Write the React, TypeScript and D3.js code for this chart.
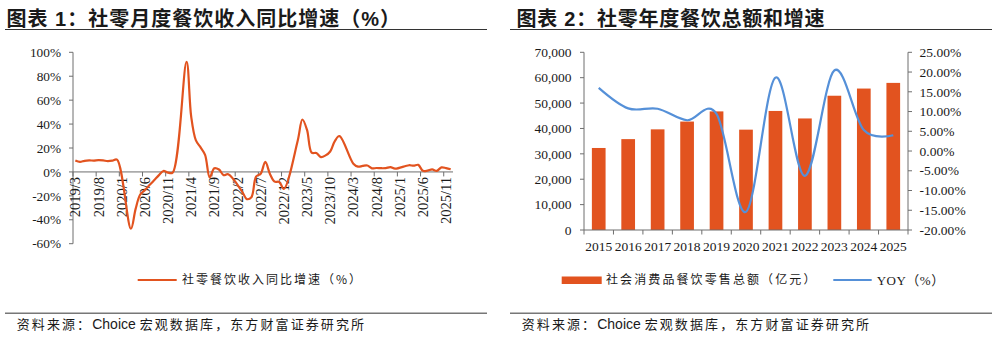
import React from 'react';
import * as d3 from 'd3';

// ---------- Data ----------
const monthLabels: string[] = [
  '2019/3','2019/4','2019/5','2019/6','2019/7','2019/8','2019/9','2019/10','2019/11','2019/12',
  '2020/1','2020/2','2020/3','2020/4','2020/5','2020/6','2020/7','2020/8','2020/9','2020/10','2020/11','2020/12',
  '2021/1','2021/2','2021/3','2021/4','2021/5','2021/6','2021/7','2021/8','2021/9','2021/10','2021/11','2021/12',
  '2022/1','2022/2','2022/3','2022/4','2022/5','2022/6','2022/7','2022/8','2022/9','2022/10','2022/11','2022/12',
  '2023/1','2023/2','2023/3','2023/4','2023/5','2023/6','2023/7','2023/8','2023/9','2023/10','2023/11','2023/12',
  '2024/1','2024/2','2024/3','2024/4','2024/5','2024/6','2024/7','2024/8','2024/9','2024/10','2024/11','2024/12',
  '2025/1','2025/2','2025/3','2025/4','2025/5','2025/6','2025/7','2025/8','2025/9','2025/10','2025/11','2025/12',
];

const monthYoY: (number | null)[] = [
  9.6, 8.4, 9.3, 9.6, 9.5, 9.8, 9.6, 9.0, 9.4, 10.3,
  null, null, -47.5, -31.1, -18.9, -15.2, -11.0, -7.0, -2.9, 0.8, -0.6, -0.6,
  null, null, 92.0, 46.4, 26.6, 20.7, 14.3, -4.5, 3.1, 2.0, -2.7, -2.0,
  null, null, -16.4, -22.7, -21.1, -4.0, -1.5, 8.4, -1.7, -8.1, -8.4, -14.1,
  null, null, 26.3, 43.8, 35.1, 16.1, 15.8, 12.4, 13.8, 17.1, 25.8, 30.0,
  null, null, 6.9, 4.4, 5.0, 5.4, 3.0, 3.3, 3.1, 3.2, 4.0, 2.7,
  null, null, 5.6, 5.2, 5.9, 0.9, 1.1, 2.1, 0.9, 3.8, 3.2, 2.2,
];

const leftTicks: number[] = [-60, -40, -20, 0, 20, 40, 60, 80, 100];

const yearLabels: string[] = ['2015','2016','2017','2018','2019','2020','2021','2022','2023','2024','2025'];
const cateringRevenue: number[] = [32310, 35799, 39644, 42716, 46721, 39527, 46895, 43941, 52890, 55718, 57950];
const cateringYoY: number[] = [16.0, 10.8, 10.7, 7.8, 9.4, -15.4, 18.6, -6.3, 20.4, 5.3, 4.0];
const revenueTicks: number[] = [0, 10000, 20000, 30000, 40000, 50000, 60000, 70000];
const yoyTicks: number[] = [-20, -15, -10, -5, 0, 5, 10, 15, 20, 25];

// ---------- Style ----------
const ORANGE = '#E2531F';
const BLUE = '#5590D8';
const AXIS = '#6e6e6e';
const TEXT = '#1a1a1a';
const SERIF = '"Liberation Serif", "Times New Roman", serif';
const CJK = '"Noto Sans CJK SC", sans-serif';
const TITLE_FONT = '"Liberation Sans", "Noto Sans CJK SC", sans-serif';

function LeftChart() {
  const x = d3.scaleBand<string>().domain(monthLabels).range([73, 453]).padding(0);
  const y = d3.scaleLinear().domain([-60, 100]).range([243.7, 52.3]);
  const bw = x.bandwidth();
  const y0 = y(0);
  const pts: [number, number][] = [];
  monthLabels.forEach((m, i) => {
    const v = monthYoY[i];
    if (v !== null) pts.push([(x(m) as number) + bw / 2, y(v)]);
  });
  const line = d3.line().curve(d3.curveCatmullRom.alpha(0.5));
  const labelIdx = monthLabels.map((_, i) => i).filter(i => i % 5 === 0);
  return (
    <g>
      <line x1={73} x2={73} y1={y(100)} y2={y(-60)} stroke={AXIS} strokeWidth={1} />
      {leftTicks.map(t => (
        <g key={t}>
          <line x1={69} x2={73} y1={y(t)} y2={y(t)} stroke={AXIS} strokeWidth={1} />
          <text x={61} y={y(t)} dy="0.35em" textAnchor="end" fontFamily={SERIF} fontSize={13.3} fill={TEXT}>{t}%</text>
        </g>
      ))}
      <line x1={73} x2={453} y1={y0} y2={y0} stroke={AXIS} strokeWidth={1} />
      {labelIdx.map(i => {
        const tx = 73 + i * bw;
        return <line key={'t' + i} x1={tx} x2={tx} y1={y0} y2={y0 + 4.5} stroke={AXIS} strokeWidth={1} />;
      })}
      {labelIdx.map(i => {
        const cx = (x(monthLabels[i]) as number) + bw / 2;
        return (
          <text key={'l' + i} transform={`translate(${cx},${y0 + 5}) rotate(-90)`} dy="0.35em" textAnchor="end"
            fontFamily={SERIF} fontSize={14.5} fill={TEXT}>{monthLabels[i]}</text>
        );
      })}
      <path d={line(pts) || ''} fill="none" stroke={ORANGE} strokeWidth={2.2} strokeLinejoin="round" />
      <line x1={137.7} x2={176.7} y1={280} y2={280} stroke={ORANGE} strokeWidth={2.2} />
      <text x={182} y={280} dy="0.36em" fontFamily={CJK} fontSize={12} letterSpacing={2} fill={TEXT}>社零餐饮收入同比增速（%）</text>
    </g>
  );
}

function RightChart() {
  const x = d3.scaleBand<string>().domain(yearLabels).range([584, 908]).padding(0);
  const yL = d3.scaleLinear().domain([0, 70000]).range([230, 52.3]);
  const yR = d3.scaleLinear().domain([-20, 25]).range([230, 52.3]);
  const bw = x.bandwidth();
  const barW = bw * 0.465;
  const fmt = d3.format(',');
  const line = d3.line().curve(d3.curveCardinal.tension(0));
  const pts: [number, number][] = yearLabels.map((yr, i) => [(x(yr) as number) + bw / 2, yR(cateringYoY[i])]);
  return (
    <g>
      {yearLabels.map((yr, i) => (
        <rect key={yr} x={(x(yr) as number) + bw / 2 - barW / 2} y={yL(cateringRevenue[i])} width={barW}
          height={230 - yL(cateringRevenue[i])} fill={ORANGE} />
      ))}
      <line x1={584} x2={584} y1={52.3} y2={230} stroke={AXIS} strokeWidth={1} />
      {revenueTicks.map(t => (
        <g key={t}>
          <line x1={580} x2={584} y1={yL(t)} y2={yL(t)} stroke={AXIS} strokeWidth={1} />
          <text x={571.5} y={yL(t)} dy="0.35em" textAnchor="end" fontFamily={SERIF} fontSize={13.5} fill={TEXT}>{fmt(t)}</text>
        </g>
      ))}
      <line x1={908} x2={908} y1={52.3} y2={230} stroke={AXIS} strokeWidth={1} />
      {yoyTicks.map(t => (
        <g key={t}>
          <line x1={908} x2={912} y1={yR(t)} y2={yR(t)} stroke={AXIS} strokeWidth={1} />
          <text x={919.5} y={yR(t)} dy="0.35em" textAnchor="start" fontFamily={SERIF} fontSize={13.5} fill={TEXT}>{t.toFixed(2)}%</text>
        </g>
      ))}
      <line x1={584} x2={908} y1={230} y2={230} stroke={AXIS} strokeWidth={1} />
      {yearLabels.map((yr, i) => (
        <line key={'t' + yr} x1={584 + i * bw} x2={584 + i * bw} y1={230} y2={234.5} stroke={AXIS} strokeWidth={1} />
      ))}
      <line x1={908} x2={908} y1={230} y2={234.5} stroke={AXIS} strokeWidth={1} />
      {yearLabels.map(yr => (
        <text key={'l' + yr} x={(x(yr) as number) + bw / 2} y={251} textAnchor="middle" fontFamily={SERIF} fontSize={13.5} fill={TEXT}>{yr}</text>
      ))}
      <path d={line(pts) || ''} fill="none" stroke={BLUE} strokeWidth={2.2} />
      <rect x={561.7} y={276.5} width={40} height={7.5} fill={ORANGE} />
      <text x={606} y={280} dy="0.36em" fontFamily={CJK} fontSize={12} letterSpacing={2.1} fill={TEXT}>社会消费品餐饮零售总额（亿元）</text>
      <line x1={833.3} x2={871.7} y1={280} y2={280} stroke={BLUE} strokeWidth={2.2} />
      <text x={876.7} y={280} dy="0.36em" fontFamily={`${SERIF}, ${CJK}`} fontSize={13} letterSpacing={0.5} fill={TEXT}>YOY（%）</text>
    </g>
  );
}

function Source({ x }: { x: number }) {
  return (
    <text x={x} y={329} fontFamily={TITLE_FONT} fontSize={13} fill={TEXT}>
      <tspan letterSpacing={2.1}>资料来源：</tspan>
      <tspan fontSize={14}>Choice </tspan>
      <tspan letterSpacing={2.1}>宏观数据库，东方财富证券研究所</tspan>
    </text>
  );
}

export default function App() {
  return (
    <svg width={997} height={337} viewBox="0 0 997 337"
      style={{ position: 'absolute', left: 0, top: 0, background: '#fff', display: 'block' }}>
      <rect x={0} y={0} width={997} height={337} fill="#fff" />
      <text x={6.5} y={25.5} fontFamily={TITLE_FONT} fontWeight={700} fontSize={20} letterSpacing={1} fill={TEXT}>图表 1：社零月度餐饮收入同比增速（%）</text>
      <line x1={5} x2={487} y1={29.5} y2={29.5} stroke="#333" strokeWidth={1.2} />
      <text x={516.5} y={25.5} fontFamily={TITLE_FONT} fontWeight={700} fontSize={20} letterSpacing={0.75} fill={TEXT}>图表 2：社零年度餐饮总额和增速</text>
      <line x1={510} x2={992} y1={29.5} y2={29.5} stroke="#333" strokeWidth={1.2} />
      <LeftChart />
      <RightChart />
      <line x1={5} x2={487} y1={313.3} y2={313.3} stroke="#777" strokeWidth={1.5} />
      <Source x={16.7} />
      <line x1={510} x2={992} y1={313.3} y2={313.3} stroke="#777" strokeWidth={1.5} />
      <Source x={521.7} />
    </svg>
  );
}
